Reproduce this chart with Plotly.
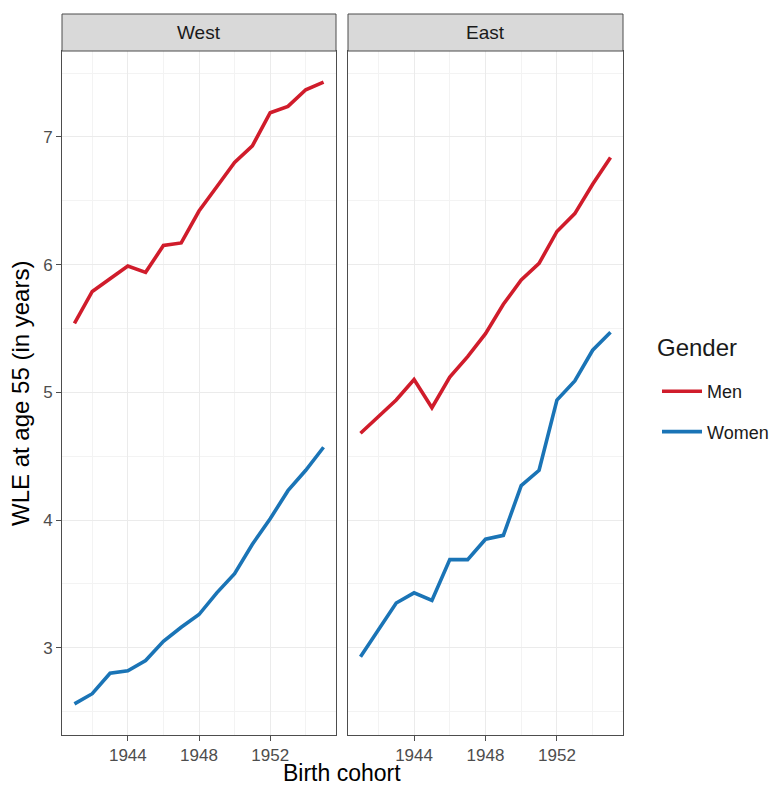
import plotly.graph_objects as go

# ---- data ----
cohorts = list(range(1941, 1956))
west_men = [5.54, 5.79, 5.89, 5.99, 5.94, 6.15, 6.17, 6.42, 6.61, 6.80, 6.93, 7.19, 7.24, 7.37, 7.43]
west_women = [2.56, 2.64, 2.80, 2.82, 2.90, 3.05, 3.16, 3.26, 3.43, 3.58, 3.81, 4.01, 4.23, 4.39, 4.57]
east_men = [4.68, 4.81, 4.94, 5.10, 4.88, 5.12, 5.28, 5.46, 5.69, 5.88, 6.01, 6.26, 6.40, 6.63, 6.84]
east_women = [2.93, 3.14, 3.35, 3.43, 3.37, 3.69, 3.69, 3.85, 3.88, 4.27, 4.39, 4.94, 5.09, 5.33, 5.47]
panels = ["West", "East"]
x_ticks = [1944, 1948, 1952]
x_minor = [1942, 1946, 1950, 1954]
y_ticks = [3, 4, 5, 6, 7]
y_minor = [2.5, 3.5, 4.5, 5.5, 6.5, 7.5]

RED = "#D01C2B"
BLUE = "#1A74B6"
FONT = "Liberation Sans, Arial, sans-serif"
W, H = 779, 789
OFF = 8  # default body margin of the html page
FW, FH = W - OFF, H - OFF


def px_x(p):
    return (p - OFF) / FW


def px_y(p):
    return (H - p) / FH


fig = go.Figure()
series = {
    "West": [("Men", west_men, RED), ("Women", west_women, BLUE)],
    "East": [("Men", east_men, RED), ("Women", east_women, BLUE)],
}
for i, panel in enumerate(panels):
    xa = "x" if i == 0 else "x2"
    ya = "y" if i == 0 else "y2"
    for name, vals, col in series[panel]:
        fig.add_trace(go.Scatter(
            x=cohorts, y=vals, mode="lines", name=name,
            line=dict(color=col, width=3.6),
            xaxis=xa, yaxis=ya, legendgroup=name,
            showlegend=(i == 0),
        ))

allv = west_men + west_women + east_men + east_women
vmin, vmax = min(allv), max(allv)
ypad = (vmax - vmin) * 0.05
xpad = (max(cohorts) - min(cohorts)) * 0.05
xr = [min(cohorts) - xpad, max(cohorts) + xpad]
yr = [vmin - ypad, vmax + ypad]

panel_px = [(62, 336), (348, 623)]
top_px, bot_px, strip_top = 51, 735, 14


def axis(**kw):
    d = dict(
        showline=True, linecolor="#4D4D4D", linewidth=1, mirror=True,
        ticks="outside", ticklen=5, tickcolor="#4D4D4D", tickwidth=1,
        showgrid=True, gridcolor="#EBEBEB", gridwidth=1.2,
        zeroline=False,
        tickfont=dict(family=FONT, size=17, color="#4D4D4D"),
    )
    d.update(kw)
    return d


minor_x = dict(tickvals=x_minor, showgrid=True, gridcolor="#F3F3F3", gridwidth=0.8, ticks="")
minor_y = dict(tickvals=y_minor, showgrid=True, gridcolor="#F3F3F3", gridwidth=0.8, ticks="")

fig.update_layout(
    xaxis=axis(domain=[px_x(panel_px[0][0]), px_x(panel_px[0][1])], range=xr,
               tickvals=x_ticks, minor=minor_x, anchor="y"),
    xaxis2=axis(domain=[px_x(panel_px[1][0]), px_x(panel_px[1][1])], range=xr,
                tickvals=x_ticks, minor=minor_x, anchor="y2"),
    yaxis=axis(domain=[px_y(bot_px), px_y(top_px)], range=yr, tickvals=y_ticks,
               minor=minor_y, anchor="x"),
    yaxis2=axis(domain=[px_y(bot_px), px_y(top_px)], range=yr, tickvals=y_ticks,
                minor=minor_y, anchor="x2", showticklabels=False, ticks=""),
)

shapes = []
annotations = []
for i, panel in enumerate(panels):
    x0, x1 = panel_px[i]
    shapes.append(dict(type="rect", xref="paper", yref="paper",
                       x0=px_x(x0), x1=px_x(x1), y0=px_y(top_px), y1=px_y(strip_top),
                       fillcolor="#D9D9D9", line=dict(color="#4D4D4D", width=1)))
    annotations.append(dict(text=panel, xref="paper", yref="paper",
                            x=px_x((x0 + x1) / 2), y=px_y((top_px + strip_top) / 2),
                            xanchor="center", yanchor="middle", showarrow=False,
                            font=dict(family=FONT, size=19, color="#1A1A1A")))

annotations.append(dict(text="Birth cohort", xref="paper", yref="paper",
                        x=px_x(342), y=px_y(773), xanchor="center", yanchor="middle",
                        showarrow=False, font=dict(family=FONT, size=23, color="#000000")))
annotations.append(dict(text="WLE at age 55 (in years)", xref="paper", yref="paper",
                        x=px_x(20), y=px_y(394), xanchor="center", yanchor="middle",
                        textangle=-90, showarrow=False,
                        font=dict(family=FONT, size=24, color="#000000")))
annotations.append(dict(text="Gender", xref="paper", yref="paper",
                        x=px_x(655), y=px_y(348), xanchor="left", yanchor="middle",
                        showarrow=False, font=dict(family=FONT, size=24, color="#1A1A1A")))

fig.update_layout(
    width=FW, height=FH,
    margin=dict(l=0, r=0, t=0, b=0),
    paper_bgcolor="white", plot_bgcolor="white",
    shapes=shapes, annotations=annotations,
    showlegend=True,
    legend=dict(
        font=dict(family=FONT, size=18, color="#1A1A1A"),
        x=px_x(657), y=px_y(373), xanchor="left", yanchor="top",
        bgcolor="rgba(0,0,0,0)", tracegroupgap=14, traceorder="grouped",
        itemwidth=40,
    ),
)

fig.write_html("out.html")
